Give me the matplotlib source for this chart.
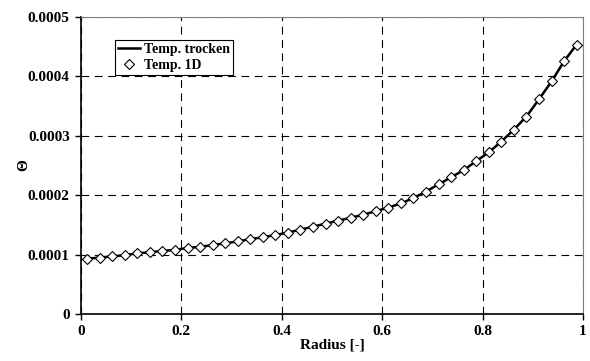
import matplotlib
matplotlib.use("Agg")
import matplotlib.pyplot as plt

# radial positions of the 1D solution points
radius = [0.0125, 0.0375, 0.0625, 0.0875, 0.1125, 0.1375, 0.1625, 0.1875,
          0.2125, 0.2375, 0.2625, 0.2875, 0.3125, 0.3375, 0.3625, 0.3875,
          0.4125, 0.4375, 0.4625, 0.4875, 0.5125, 0.5375, 0.5625, 0.5875,
          0.6125, 0.6375, 0.6625, 0.6875, 0.7125, 0.7375, 0.7625, 0.7875,
          0.8125, 0.8375, 0.8625, 0.8875, 0.9125, 0.9375, 0.9625, 0.9875]

# Temp. 1D (markers)
temp_1d = [0.000093, 0.000095, 0.000097, 0.000099, 0.000102, 0.000104,
           0.000106, 0.000108, 0.000111, 0.000113, 0.000116, 0.000119,
           0.000122, 0.000126, 0.000129, 0.000133, 0.000137, 0.000142,
           0.000147, 0.000152, 0.000157, 0.000162, 0.000167, 0.000173,
           0.000179, 0.000186, 0.000195, 0.000206, 0.000218, 0.000230,
           0.000242, 0.000257, 0.000272, 0.000290, 0.000310, 0.000332,
           0.000361, 0.000391, 0.000425, 0.000453]

# Temp. trocken (line) - same nodes
temp_trocken = list(temp_1d)

x_ticks = [0, 0.2, 0.4, 0.6, 0.8, 1]
x_labels = ["0", "0.2", "0.4", "0.6", "0.8", "1"]
y_ticks = [0, 0.0001, 0.0002, 0.0003, 0.0004, 0.0005]
y_labels = ["0", "0.0001", "0.0002", "0.0003", "0.0004", "0.0005"]

plt.rcParams['font.family'] = ['Liberation Serif', 'DejaVu Serif']
plt.rcParams['font.weight'] = 'bold'

fig = plt.figure(figsize=(5.9, 3.61), dpi=100)
ax = fig.add_axes([0.137, 0.130, 0.851, 0.824])

ax.plot(radius, temp_trocken, color='black', linewidth=1.8, label='Temp. trocken', zorder=3)
ax.plot(radius, temp_1d, linestyle='none', marker='D', markersize=5,
        markerfacecolor='white', markeredgecolor='black', markeredgewidth=0.8,
        label='Temp. 1D', zorder=4)

ax.set_xlim(0, 1)
ax.set_ylim(0, 0.0005)
ax.set_xticks(x_ticks)
ax.set_xticklabels(x_labels)
ax.set_yticks(y_ticks)
ax.set_yticklabels(y_labels)
ax.tick_params(direction='out', length=4, width=1, labelsize=11, colors='black', pad=4)
for lbl in ax.get_xticklabels() + ax.get_yticklabels():
    lbl.set_fontweight('bold')

ax.grid(True, color='black', linestyle=(0, (7, 5)), linewidth=0.8)
ax.set_axisbelow(True)

ax.spines['left'].set_color('black')
ax.spines['bottom'].set_color('black')
ax.spines['left'].set_linewidth(1.2)
ax.spines['bottom'].set_linewidth(1.2)
ax.spines['top'].set_color('#808080')
ax.spines['right'].set_color('#808080')

ax.set_xlabel("Radius [-]", fontsize=11, fontweight='bold', labelpad=0)
ax.set_ylabel("Θ", fontsize=11, fontweight='bold', labelpad=-2)

leg = ax.legend(loc='upper left', bbox_to_anchor=(0.068, 0.92), fontsize=10,
                frameon=True, fancybox=False, framealpha=1, edgecolor='black',
                borderpad=0.2, labelspacing=0.2, handlelength=1.6, handletextpad=0.3,
                borderaxespad=0)
leg.get_frame().set_linewidth(0.8)
for t in leg.get_texts():
    t.set_fontweight('bold')

fig.savefig("out.png", dpi=100)
